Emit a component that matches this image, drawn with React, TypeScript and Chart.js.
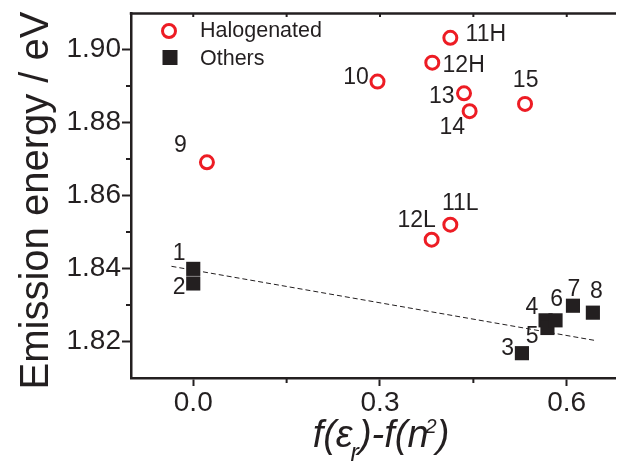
import React, { useEffect, useRef } from "react";
import { Chart, registerables } from "chart.js";

Chart.register(...registerables);

const INK = "#231f20";
const RED = "#ed1c24";
const FONT = "'Liberation Sans', Arial, Helvetica, sans-serif";

// ---- data ----
const halogenatedNames = ["9", "10", "11H", "12H", "13", "14", "15", "11L", "12L"];
const halogenatedX = [0.022, 0.296, 0.413, 0.384, 0.435, 0.444, 0.533, 0.413, 0.383];
const halogenatedY = [1.8691, 1.8912, 1.9032, 1.8964, 1.888, 1.8831, 1.8851, 1.852, 1.8479];

const otherNames = ["1", "2", "3", "4", "5", "6", "7", "8"];
const otherX = [0.0, 0.0, 0.528, 0.566, 0.569, 0.582, 0.61, 0.642];
const otherY = [1.8399, 1.8359, 1.8168, 1.8258, 1.8237, 1.8258, 1.8298, 1.8279];

const fitX = [-0.035, 0.645];
const fitY = [1.8406, 1.8203];

const xTicks = [0.0, 0.15, 0.3, 0.45, 0.6];
const xTickLabels = ["0.0", "", "0.3", "", "0.6"];
const yTicks = [1.82, 1.83, 1.84, 1.85, 1.86, 1.87, 1.88, 1.89, 1.9];
const yTickLabels = ["1.82", "", "1.84", "", "1.86", "", "1.88", "", "1.90"];

const legendLabels = ["Halogenated", "Others"];
const yTitle = "Emission energy / eV";

// ---- label placement (pixel offsets from each marker) ----
const halogenatedLabelOffsets = [
  [-26.5, -17], [-21.5, -3.7], [35.5, -3.3], [31.4, 3], [-22.3, 3],
  [-17.3, 16], [0.6, -23.5], [10, -20.8], [-15, -19.2],
];
const otherLabelOffsets = [
  [-14, -15], [-14.2, 4.3], [-14.2, -4.3], [-13.6, -12.4], [-15.3, 8.7],
  [1, -20.2], [1, -16], [3.6, -21.3],
];

// x title pieces: text, size, baseline shift, kerning before
const xTitleParts: [string, number, number, number][] = [
  ["f", 38, 0, 0],
  ["(", 38, 0, 0],
  ["\u03b5", 38, 0, 0],
  ["r", 25, 14, -2],
  [")", 38, 0, 0],
  ["-", 38, 0, 0],
  ["f", 38, 0, 0],
  ["(", 38, 0, 0],
  ["n", 38, 0, 0],
  ["2", 20, -13.5, -3],
  [")", 38, 0, 0],
];

const decorPlugin = {
  id: "decor",
  afterDatasetsDraw(chart: any) {
    const { ctx } = chart;
    ctx.save();
    ctx.fillStyle = INK;
    ctx.font = `23px ${FONT}`;
    ctx.textAlign = "center";
    ctx.textBaseline = "middle";
    const hMeta = chart.getDatasetMeta(1);
    hMeta.data.forEach((pt: any, i: number) => {
      const [dx, dy] = halogenatedLabelOffsets[i];
      ctx.fillText(halogenatedNames[i], pt.x + dx, pt.y + dy);
    });
    const oMeta = chart.getDatasetMeta(2);
    oMeta.data.forEach((pt: any, i: number) => {
      const [dx, dy] = otherLabelOffsets[i];
      ctx.fillText(otherNames[i], pt.x + dx, pt.y + dy);
    });
    ctx.restore();
  },
  afterDraw(chart: any) {
    const { ctx, chartArea: ca, scales } = chart;
    const xs = scales.x;
    const ys = scales.y;
    ctx.save();
    ctx.setLineDash([]);
    ctx.strokeStyle = INK;
    ctx.lineWidth = 2.5;
    ctx.beginPath();
    ctx.moveTo(ca.left - 1.25, ca.top + 0.5);
    ctx.lineTo(ca.right, ca.top + 0.5);
    ctx.stroke();

    ctx.lineWidth = 2;
    const line = (a: number, b: number, c: number, d: number) => {
      ctx.beginPath();
      ctx.moveTo(a, b);
      ctx.lineTo(c, d);
      ctx.stroke();
    };
    xTicks.forEach((v, i) => {
      const px = xs.getPixelForValue(v);
      if (!xTickLabels[i]) line(px, ca.bottom, px, ca.bottom + 5);
      line(px, ca.top, px, ca.top + 4);
    });
    yTicks.forEach((v, i) => {
      const py = ys.getPixelForValue(v);
      if (!yTickLabels[i]) line(ca.left - 5, py, ca.left, py);
    });

    // legend
    ctx.strokeStyle = RED;
    ctx.lineWidth = 3;
    ctx.beginPath();
    ctx.arc(ca.left + 38, ca.top + 18, 6.5, 0, Math.PI * 2);
    ctx.stroke();
    ctx.fillStyle = INK;
    ctx.fillRect(ca.left + 39 - 7.5, ca.top + 44.5 - 7.5, 15, 15);
    ctx.font = `21.5px ${FONT}`;
    ctx.textAlign = "left";
    ctx.textBaseline = "alphabetic";
    ctx.fillText(legendLabels[0], ca.left + 69, ca.top + 24.3);
    ctx.fillText(legendLabels[1], ca.left + 69, ca.top + 52);

    // y title
    ctx.save();
    ctx.translate(39.5, 192.5);
    ctx.rotate(-Math.PI / 2);
    ctx.font = `40px ${FONT}`;
    ctx.textAlign = "center";
    ctx.fillText(yTitle, 0, 0);
    ctx.restore();

    // x title with sub/superscript
    let total = 0;
    xTitleParts.forEach(([t, s, , k]) => {
      ctx.font = `italic ${s}px ${FONT}`;
      total += ctx.measureText(t).width + k;
    });
    let cx = xs.getPixelForValue(0.3) + 1 - total / 2;
    const base = 438.5;
    ctx.textAlign = "left";
    xTitleParts.forEach(([t, s, dy, k]) => {
      ctx.font = `italic ${s}px ${FONT}`;
      cx += k;
      ctx.fillText(t, cx, base + dy);
      cx += ctx.measureText(t).width;
    });
    ctx.restore();
  },
};

export default function App() {
  const ref = useRef<HTMLCanvasElement>(null);
  useEffect(() => {
    const canvas = ref.current!;
    const chart = new Chart(canvas, {
      type: "scatter",
      data: {
        datasets: [
          {
            label: "fit",
            data: fitX.map((x, i) => ({ x, y: fitY[i] })),
            showLine: true,
            borderColor: INK,
            borderWidth: 1,
            borderDash: [5, 3],
            pointRadius: 0,
            fill: false,
          },
          {
            label: legendLabels[0],
            data: halogenatedX.map((x, i) => ({ x, y: halogenatedY[i] })),
            pointStyle: "circle",
            pointRadius: 6.5,
            pointBorderWidth: 3,
            pointBorderColor: RED,
            pointBackgroundColor: "rgba(0,0,0,0)",
          },
          {
            label: legendLabels[1],
            data: otherX.map((x, i) => ({ x, y: otherY[i] })),
            pointStyle: "rect",
            pointRadius: 10,
            pointBorderWidth: 0,
            pointBackgroundColor: INK,
            pointBorderColor: INK,
          },
        ],
      } as any,
      options: {
        animation: false,
        responsive: false,
        devicePixelRatio: 1,
        layout: { autoPadding: false, padding: { top: 5, left: 0, right: 0, bottom: 0 } },
        plugins: { legend: { display: false }, tooltip: { enabled: false } },
        scales: {
          x: {
            type: "linear",
            min: -0.1,
            max: 0.692,
            afterBuildTicks: (s: any) => {
              s.ticks = xTicks.map((value) => ({ value }));
            },
            afterFit: (s: any) => {
              s.height = 93;
              s.paddingLeft = 0;
              s.paddingRight = 0;
            },
            ticks: {
              autoSkip: false,
              maxRotation: 0,
              padding: 0,
              color: INK,
              font: { family: FONT, size: 28 },
              callback: (_v: any, i: number) => xTickLabels[i],
            },
            grid: {
              drawOnChartArea: false,
              drawTicks: true,
              tickLength: 8,
              tickWidth: 2,
              tickColor: (c: any) => (xTickLabels[c.index] ? INK : "rgba(0,0,0,0)"),
            },
            border: { display: true, color: INK, width: 2.5 },
          },
          y: {
            type: "linear",
            min: 1.81,
            max: 1.91,
            afterBuildTicks: (s: any) => {
              s.ticks = yTicks.map((value) => ({ value }));
            },
            afterFit: (s: any) => {
              s.width = 123;
              s.paddingTop = 0;
              s.paddingBottom = 0;
            },
            ticks: {
              autoSkip: false,
              padding: 1,
              color: INK,
              font: { family: FONT, size: 28 },
              callback: (_v: any, i: number) => yTickLabels[i],
            },
            grid: {
              drawOnChartArea: false,
              drawTicks: true,
              tickLength: 9,
              tickWidth: 2,
              tickColor: (c: any) => (yTickLabels[c.index] ? INK : "rgba(0,0,0,0)"),
            },
            border: { display: true, color: INK, width: 2.5 },
          },
        },
      } as any,
      plugins: [decorPlugin],
    });
    return () => chart.destroy();
  }, []);
  return (
    <div style={{ width: 616, height: 463 }}>
      <canvas ref={ref} width={616} height={463} style={{ display: "block", width: 616, height: 463 }} />
    </div>
  );
}
